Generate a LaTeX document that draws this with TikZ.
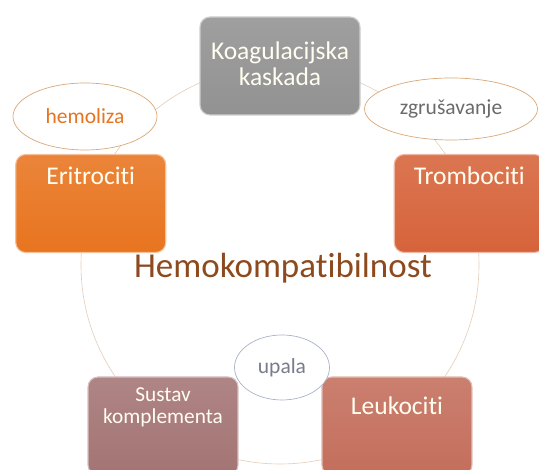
\documentclass[tikz,border=0pt]{standalone}
\usepackage{fontspec}
\setmainfont{Carlito}[Ligatures=NoCommon]
\usetikzlibrary{positioning,calc,shapes.geometric}

\definecolor{koagcol}{HTML}{929292}
\definecolor{eritcol}{HTML}{E8741F}
\definecolor{trombcol}{HTML}{D6633A}
\definecolor{leukcol}{HTML}{C46E5C}
\definecolor{komplcol}{HTML}{A47474}
\definecolor{ringcol}{HTML}{E3CDB8}
\definecolor{tancol}{HTML}{DAA878}
\definecolor{bluecol}{HTML}{AAB2C8}
\definecolor{titlecol}{HTML}{8C4A1E}

\begin{document}
\begin{tikzpicture}[
  x=1pt, y=1pt,
  font=\fontsize{25.5}{26}\selectfont,
  box/.style={draw=#1!45!white, line width=1.1pt, rounded corners=10pt,
    minimum width=150pt, minimum height=98pt, inner sep=0pt,
    top color=#1!88!white, bottom color=#1},
  boxtxt/.style={text=white!94!yellow, align=center, inner sep=0pt},
  oval/.style={ellipse, draw=#1, line width=0.7pt, fill=white, inner sep=0pt,
    font=\fontsize{21.5}{22}\selectfont},
  ring/.style={draw=ringcol, line width=0.6pt}
]
  \useasboundingbox (0,0) rectangle (539,470);
  \coordinate (c) at (280,205);

  % ring behind everything
  \draw[ring] (c) circle[radius=199];

  \node[box=koagcol, minimum width=160pt] (koag) at ([shift={(90:199)}]c) {};
  \node[boxtxt] (koagtxt) at ([yshift=2pt]koag) {Koagulacijska\\kaskada};

  \node[box=trombcol] (tromb) at ([shift={(18:199)}]c) {};
  \node[boxtxt, below=13pt of tromb.north] (trombtxt) {Trombociti};

  \node[box=leukcol] (leuk) at ([shift={(-54:199)}]c) {};
  \node[boxtxt, below=20pt of leuk.north] (leuktxt) {Leukociti};

  \node[box=komplcol] (kompl) at ([shift={(-126:199)}]c) {};
  \node[boxtxt, below=11pt of kompl.north,
    font=\fontsize{21.3}{22}\selectfont] (kompltxt) {Sustav\\komplementa};

  \node[box=eritcol] (erit) at ([shift={(162:199)}]c) {};
  \node[boxtxt, below=13pt of erit.north] (erittxt) {Eritrociti};

  \node[oval=tancol, minimum width=144pt, minimum height=67pt,
    text=eritcol] (hemo) at (85,353.5) {hemoliza};
  \node[oval=tancol, minimum width=173pt, minimum height=62pt,
    text=black!58] (zgrus) at (451,361) {zgrušavanje};
  \node[oval=bluecol, minimum width=95pt, minimum height=65pt,
    text=bluecol!70!black] (upala) at (282,102.5) {upala};

  \node[text=titlecol, font=\fontsize{35}{36}\selectfont] (title)
    at ([shift={(3,-3)}]c) {Hemokompatibilnost};
\end{tikzpicture}
\end{document}
